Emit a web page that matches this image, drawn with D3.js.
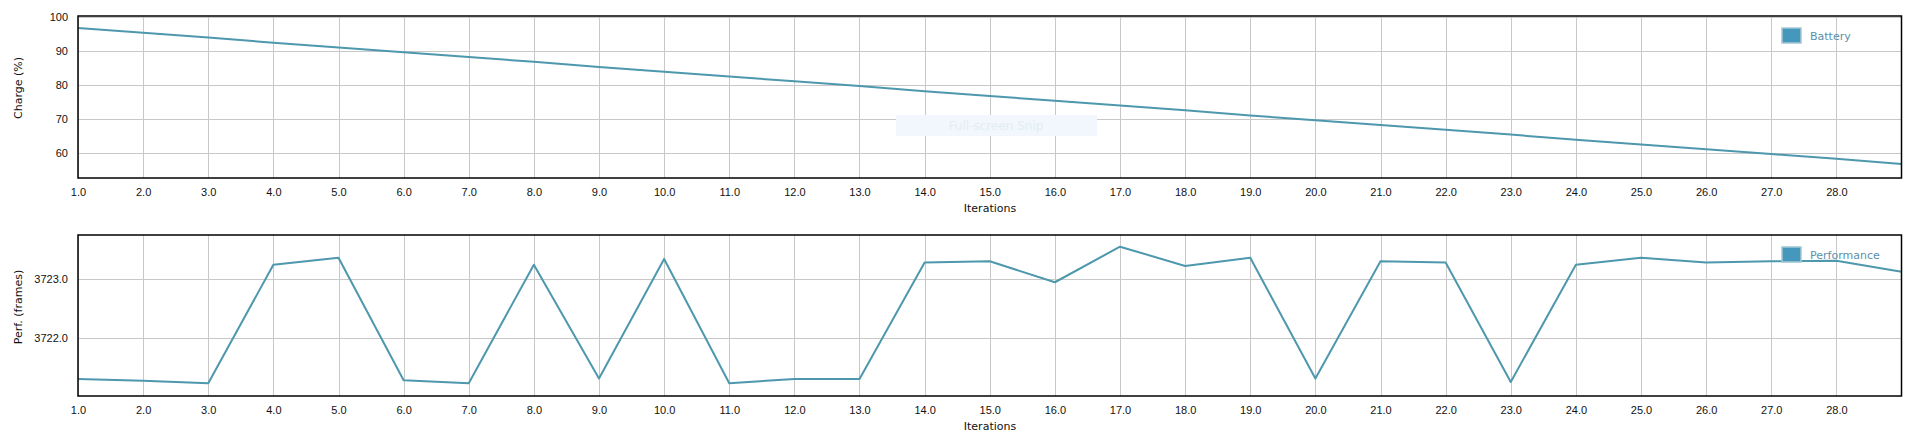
<!DOCTYPE html>
<html>
<head>
<meta charset="utf-8">
<script src="https://cdn.jsdelivr.net/npm/d3@7"></script>
<style>
  body { margin: 0; background: #fff; }
  svg { display: block; font-family: "DejaVu Sans", Verdana, sans-serif; }
  .grid line { stroke: #c8c8c8; stroke-width: 1; shape-rendering: crispEdges; }
  .axis text { font-size: 11px; fill: #111; }
  .axis path, .axis line { display: none; }
</style>
</head>
<body>
<div id="chart"></div>
<script>
// iterations 1..29
const iterations = [1, 2, 3, 4, 5, 6, 7, 8, 9, 10, 11, 12, 13, 14, 15, 16, 17, 18, 19, 20, 21, 22, 23, 24, 25, 26, 27, 28, 29];
const xTicks = [1, 2, 3, 4, 5, 6, 7, 8, 9, 10, 11, 12, 13, 14, 15, 16, 17, 18, 19, 20, 21, 22, 23, 24, 25, 26, 27, 28];

const battery = [96.7, 95.3, 93.9, 92.4, 91.0, 89.6, 88.2, 86.8, 85.3, 83.9, 82.5, 81.1, 79.7, 78.2, 76.8,
    75.4, 74.0, 72.6, 71.1, 69.7, 68.3, 66.9, 65.5, 64.0, 62.6, 61.2, 59.8, 58.4, 56.9];
const batteryTicks = [60, 70, 80, 90, 100];

const performance = [3721.29, 3721.26, 3721.22, 3723.25, 3723.37, 3721.27, 3721.22, 3723.25, 3721.30, 3723.35,
    3721.22, 3721.29, 3721.29, 3723.29, 3723.31, 3722.95, 3723.56, 3723.23, 3723.37, 3721.30,
    3723.31, 3723.29, 3721.24, 3723.25, 3723.37, 3723.29, 3723.31, 3723.32, 3723.13];
const perfTicks = [3722.0, 3723.0];

const W = 1920, H = 443;
const lineColor = "#4d98ad";

const svg = d3.select("#chart").append("svg")
    .attr("width", W)
    .attr("height", H);

const x = d3.scaleLinear().domain([1, 29]).range([78, 1901.5]);

function drawPanel(cfg) {
    const y = d3.scaleLinear().domain(cfg.domain).range([cfg.bottom, cfg.top]);
    const g = svg.append("g");

    // grid
    const grid = g.append("g").attr("class", "grid");
    grid.selectAll(".vx").data(xTicks).enter().append("line")
        .attr("x1", d => Math.round(x(d)) + 0.5).attr("x2", d => Math.round(x(d)) + 0.5)
        .attr("y1", cfg.top).attr("y2", cfg.bottom);
    grid.selectAll(".hy").data(cfg.ticks).enter().append("line")
        .attr("x1", x.range()[0]).attr("x2", x.range()[1])
        .attr("y1", d => Math.round(y(d)) + 0.5).attr("y2", d => Math.round(y(d)) + 0.5);

    // watermark-ish snip box (only on top panel)
    if (cfg.snip) {
        g.append("rect")
            .attr("x", 896).attr("y", 115).attr("width", 201).attr("height", 21)
            .attr("fill", "#f1f7fc");
        g.append("text")
            .attr("x", 996).attr("y", 130)
            .attr("text-anchor", "middle")
            .style("font-size", "12px")
            .attr("fill", "#e2edf6")
            .text("Full-screen Snip");
    }

    // line
    const line = d3.line()
        .x((d, i) => x(iterations[i]))
        .y(d => y(d));
    g.append("path")
        .datum(cfg.values)
        .attr("fill", "none")
        .attr("stroke", lineColor)
        .attr("stroke-width", 2)
        .attr("stroke-linejoin", "round")
        .attr("d", line);

    // frame
    g.append("rect")
        .attr("x", x.range()[0]).attr("y", cfg.top)
        .attr("width", x.range()[1] - x.range()[0])
        .attr("height", cfg.bottom - cfg.top)
        .attr("fill", "none")
        .attr("stroke", "#000")
        .attr("stroke-width", 1.5);

    // axes
    g.append("g")
        .attr("class", "axis")
        .attr("transform", `translate(0,${cfg.bottom})`)
        .call(d3.axisBottom(x).tickValues(xTicks).tickFormat(d3.format(".1f")).tickSize(0).tickPadding(10));

    g.append("g")
        .attr("class", "axis")
        .attr("transform", `translate(${x.range()[0]},0)`)
        .call(d3.axisLeft(y).tickValues(cfg.ticks).tickFormat(cfg.fmt).tickSize(0).tickPadding(10));

    // axis titles
    g.append("text")
        .attr("x", 990).attr("y", cfg.bottom + 34)
        .attr("text-anchor", "middle")
        .style("font-size", "11px")
        .attr("fill", "#111")
        .text("Iterations");

    g.append("text")
        .attr("transform", `translate(22,${cfg.titleY}) rotate(-90)`)
        .attr("text-anchor", "middle")
        .style("font-size", "11px")
        .attr("fill", "#111")
        .text(cfg.yTitle);

    // legend
    const lg = g.append("g").attr("transform", `translate(1782,${cfg.top + 12})`);
    lg.append("rect")
        .attr("width", 19).attr("height", 15)
        .attr("fill", "#4597bb")
        .attr("stroke", "#a3c7d6")
        .attr("stroke-width", 1.5);
    lg.append("text")
        .attr("x", 28).attr("y", 12)
        .style("font-size", "11px")
        .attr("fill", "#5a90ad")
        .text(cfg.name);
}

drawPanel({
    top: 16, bottom: 178,
    domain: [52.8, 100.2],
    ticks: batteryTicks,
    fmt: d3.format("d"),
    values: battery,
    yTitle: "Charge (%)",
    titleY: 88,
    name: "Battery",
    snip: true
});

drawPanel({
    top: 235, bottom: 396,
    domain: [3721.0, 3723.76],
    ticks: perfTicks,
    fmt: d3.format(".1f"),
    values: performance,
    yTitle: "Perf. (frames)",
    titleY: 307,
    name: "Performance",
    snip: false
});
</script>
</body>
</html>
